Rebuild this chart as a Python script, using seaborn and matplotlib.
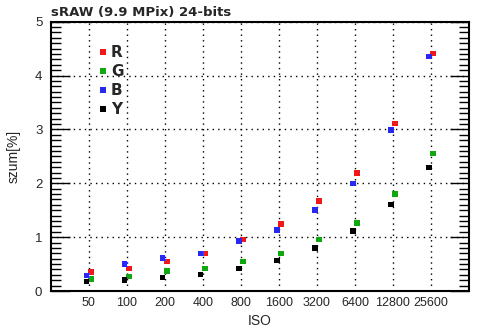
import numpy as np
import pandas as pd
import matplotlib
matplotlib.use("Agg")
import matplotlib.pyplot as plt
import seaborn as sns
from matplotlib.lines import Line2D
from matplotlib.ticker import MultipleLocator

iso_labels = ["50", "100", "200", "400", "800", "1600", "3200", "6400", "12800", "25600"]
R = [0.35, 0.42, 0.55, 0.70, 0.96, 1.24, 1.67, 2.19, 3.11, 4.41]
G = [0.22, 0.27, 0.37, 0.42, 0.55, 0.70, 0.96, 1.26, 1.80, 2.55]
B = [0.29, 0.50, 0.61, 0.70, 0.93, 1.13, 1.50, 2.00, 2.99, 4.35]
Y = [0.18, 0.20, 0.25, 0.31, 0.42, 0.57, 0.80, 1.11, 1.61, 2.29]

channels = ["R", "G", "B", "Y"]
colors = {"R": "#f01818", "G": "#10a810", "B": "#2828f0", "Y": "#000000"}
offsets = {"R": 0.055, "G": 0.055, "B": -0.055, "Y": -0.055}

rows = []
for ch, vals in zip(channels, [R, G, B, Y]):
    for i, v in enumerate(vals):
        rows.append({"pos": i + 1 + offsets[ch], "szum": v, "ch": ch})
df = pd.DataFrame(rows)

sns.set_style("white")
plt.rcParams["font.family"] = ["DejaVu Sans"]

fig = plt.figure(figsize=(4.94, 3.31), dpi=100)
ax = fig.add_axes([50.7 / 494, 1 - 291 / 331, (469 - 50.7) / 494, (291 - 21.7) / 331])

sns.scatterplot(data=df, x="pos", y="szum", hue="ch", palette=colors, marker="s",
                s=16, linewidth=0, ax=ax, legend=False, zorder=3)

ax.set_xlim(0, 11)
ax.set_ylim(0, 5)
ax.set_xticks(range(1, 11))
ax.set_xticklabels(iso_labels, family="Liberation Sans", fontsize=9)
ax.yaxis.set_major_locator(MultipleLocator(1))
ax.yaxis.set_minor_locator(MultipleLocator(0.1))
for lab in ax.get_yticklabels():
    lab.set_family("Liberation Sans")
    lab.set_fontsize(9.5)

ax.tick_params(axis="x", length=0, pad=4)
ax.tick_params(axis="y", which="major", direction="in", length=14, width=1,
               left=True, right=True, pad=6, color="black")
ax.tick_params(axis="y", which="minor", direction="in", length=7.5, width=1,
               left=True, right=True, color="black")

ax.grid(True, which="major", color="black", linestyle=(0, (1, 3)), linewidth=1)
ax.set_axisbelow(True)
for sp in ax.spines.values():
    sp.set_visible(True)
    sp.set_color("black")
    sp.set_linewidth(1.5)

ax.set_xlabel("ISO", family="Liberation Sans", fontsize=10, labelpad=4)
ax.set_ylabel("szum[%]", family="Liberation Sans", fontsize=10, labelpad=10)
ax.set_title("sRAW (9.9 MPix) 24-bits", loc="left", fontweight="bold", fontsize=9.5, pad=4)

handles = [Line2D([], [], marker="s", linestyle="none", color=colors[c],
                  markersize=4, markeredgewidth=0) for c in channels]
leg = ax.legend(handles, channels, loc="upper left", bbox_to_anchor=(0.1, 0.94),
                frameon=False, handlelength=0.4, handletextpad=0.3, labelspacing=0.25,
                borderpad=0, prop={"weight": "bold", "size": 11})

fig.savefig("out.png", dpi=100)
